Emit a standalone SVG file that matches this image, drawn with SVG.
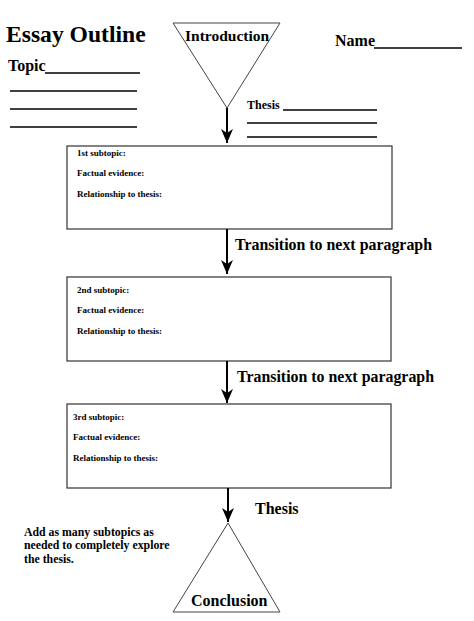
<svg xmlns="http://www.w3.org/2000/svg" width="474" height="621" viewBox="0 0 474 621">
<defs>
<style>
text{font-family:"Liberation Serif","Times New Roman",serif;font-weight:bold;fill:#000}
.t1{font-size:23.6px}
.t2{font-size:16px}
.t3{font-size:15.5px}
.tr{font-size:15.9px}
.sm{font-size:9px}
.note{font-size:11.8px}
.ln{stroke:#000;stroke-width:1.3;fill:none}
.box{fill:#fff;stroke:#333;stroke-width:1.2}
.tri{fill:#fff;stroke:#444;stroke-width:1}
.conn{stroke:#000;stroke-width:2;fill:none}
</style>
<marker id="ah" markerUnits="userSpaceOnUse" markerWidth="16" markerHeight="14" refX="15" refY="7" orient="auto" viewBox="0 0 16 14">
<path d="M15 7 L1 1 L5 7 L1 13 Z" fill="#000"/>
</marker>
</defs>
<rect width="474" height="621" fill="#fff"/>

<g id="header">
<text class="t1" x="6" y="42">Essay Outline</text>
<text class="t2" x="8" y="71">Topic</text>
<line class="ln" x1="45" y1="73" x2="140" y2="73"/>
<line class="ln" x1="10" y1="91" x2="137" y2="91"/>
<line class="ln" x1="10" y1="109" x2="137" y2="109"/>
<line class="ln" x1="10" y1="127" x2="137" y2="127"/>
<text class="t2" x="335" y="46">Name</text>
<line class="ln" x1="374" y1="48" x2="462" y2="48"/>
</g>

<g id="introduction">
<polygon class="tri" points="173,23 280,23 227,108"/>
<text class="t3" x="185" y="41">Introduction</text>
</g>

<g id="thesis-lines">
<text x="247" y="109" style="font-size:12px">Thesis</text>
<line class="ln" x1="283" y1="110" x2="377" y2="110"/>
<line class="ln" x1="247" y1="123" x2="377" y2="123"/>
<line class="ln" x1="247" y1="137" x2="377" y2="137"/>
</g>

<g id="box1">
<rect class="box" x="67" y="146" width="325" height="83"/>
<text class="sm" x="77" y="156">1st subtopic:</text>
<text class="sm" x="77" y="176">Factual evidence:</text>
<text class="sm" x="77" y="197">Relationship to thesis:</text>
</g>

<g id="box2">
<rect class="box" x="67" y="277" width="324" height="84"/>
<text class="sm" x="77" y="293">2nd subtopic:</text>
<text class="sm" x="77" y="313">Factual evidence:</text>
<text class="sm" x="77" y="334">Relationship to thesis:</text>
</g>

<g id="box3">
<rect class="box" x="67" y="404" width="324" height="84"/>
<text class="sm" x="73" y="420">3rd subtopic:</text>
<text class="sm" x="73" y="440">Factual evidence:</text>
<text class="sm" x="73" y="461">Relationship to thesis:</text>
</g>

<g id="conclusion">
<polygon class="tri" points="228,523 173,612 280,612"/>
<text class="t2" x="191" y="606">Conclusion</text>
</g>

<g id="note">
<text class="note" x="24" y="536">Add as many subtopics as</text>
<text class="note" x="24" y="549">needed to completely explore</text>
<text class="note" x="24" y="563">the thesis.</text>
</g>

<g id="connectors">
<line class="conn" x1="227" y1="108" x2="227" y2="143" marker-end="url(#ah)"/>
<line class="conn" x1="227" y1="229" x2="227" y2="274" marker-end="url(#ah)"/>
<text class="tr" x="235" y="250">Transition to next paragraph</text>
<line class="conn" x1="227" y1="361" x2="227" y2="403" marker-end="url(#ah)"/>
<text class="tr" x="237" y="382">Transition to next paragraph</text>
<line class="conn" x1="228" y1="488" x2="228" y2="522" marker-end="url(#ah)"/>
<text class="t2" x="255" y="514">Thesis</text>
</g>
</svg>
